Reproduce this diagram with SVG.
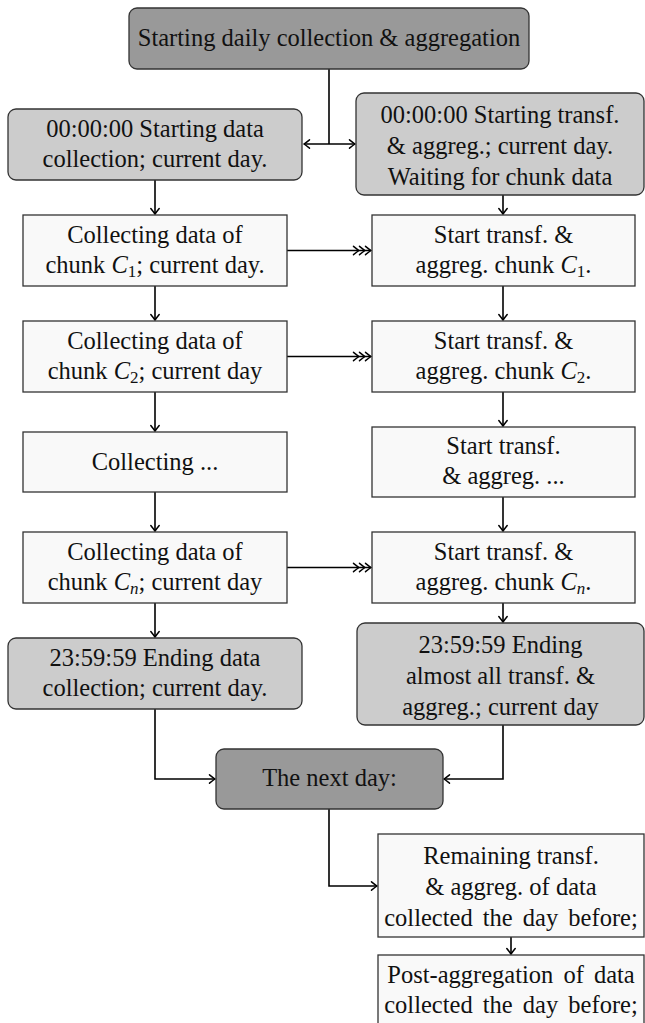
<svg xmlns="http://www.w3.org/2000/svg" xmlns:xlink="http://www.w3.org/1999/xlink" width="645" height="1023" viewBox="0 0 645 1023">
<defs>
<style>
text{font-family:"Liberation Serif","Times New Roman",serif;font-size:24.5px;fill:#111;text-anchor:middle}
.i{font-style:italic}
.sub{font-size:17px}
.ws{word-spacing:4px}
.dark{fill:#999;stroke:#333;stroke-width:1.3}
.gray{fill:#ccc;stroke:#333;stroke-width:1.3}
.white{fill:#f9f9f9;stroke:#333;stroke-width:1.3}
.c{fill:none;stroke:#000;stroke-width:1.6}
.a{marker-end:url(#arr)}
.t{marker-mid:url(#arr);marker-end:url(#arr)}
</style>
<marker id="arr" markerUnits="userSpaceOnUse" viewBox="-7 -5 8 10" refX="0" refY="0" markerWidth="8" markerHeight="10" orient="auto-start-reverse" overflow="visible">
<path d="M -5.5 -4.2 Q -1.5 -1 0 0 Q -1.5 1 -5.5 4.2" fill="none" stroke="#000" stroke-width="1.5" stroke-linecap="round"/>
</marker>
</defs>

<g id="connectors">
<path class="c" d="M329 69 V144"/>
<path class="c" d="M304 144 H355" marker-start="url(#arr)" marker-end="url(#arr)"/>
<path class="c a" d="M155 180 V214"/>
<path class="c a" d="M503 195 V214"/>
<path class="c a" d="M155 286 V320"/>
<path class="c a" d="M503 286 V320"/>
<path class="c a" d="M155 392 V431"/>
<path class="c a" d="M503 392 V426"/>
<path class="c a" d="M155 492 V531"/>
<path class="c a" d="M503 497 V531"/>
<path class="c a" d="M155 603 V637"/>
<path class="c a" d="M503 603 V622"/>
<polyline class="c t" points="287,250.5 359,250.5 365,250.5 371,250.5"/>
<polyline class="c t" points="287,356.5 359,356.5 365,356.5 371,356.5"/>
<polyline class="c t" points="287,567.5 359,567.5 365,567.5 371,567.5"/>
<path class="c a" d="M155 709 V779 H215"/>
<path class="c a" d="M503 725 V779 H444"/>
<path class="c a" d="M329 809 V886 H377"/>
<path class="c a" d="M511 937 V954"/>
</g>

<g id="start">
<rect class="dark" x="129" y="8" width="400" height="61" rx="8"/>
<text x="329" y="45.5">Starting daily collection &amp; aggregation</text>
</g>

<g id="collect-start">
<rect class="gray" x="8" y="109" width="294" height="71" rx="8"/>
<text x="155" y="136.5">00:00:00 Starting data</text>
<text x="155" y="166.5">collection; current day.</text>
</g>

<g id="transf-start">
<rect class="gray" x="356" y="93" width="288" height="102" rx="8"/>
<text x="500" y="122.5">00:00:00 Starting transf.</text>
<text x="500" y="153.5">&amp; aggreg.; current day.</text>
<text x="500" y="184.5">Waiting for chunk data</text>
</g>

<g id="collect-c1">
<rect class="white" x="23" y="215" width="264" height="71"/>
<text x="155" y="242.5">Collecting data of</text>
<text x="155" y="272.5">chunk <tspan class="i">C</tspan><tspan class="sub" dy="4">1</tspan><tspan dy="-4">; current day.</tspan></text>
</g>

<g id="transf-c1">
<rect class="white" x="372" y="215" width="263" height="71"/>
<text x="503.5" y="242.5">Start transf. &amp;</text>
<text x="503.5" y="272.5">aggreg. chunk <tspan class="i">C</tspan><tspan class="sub" dy="4">1</tspan><tspan dy="-4">.</tspan></text>
</g>

<g id="collect-c2">
<rect class="white" x="23" y="321" width="264" height="71"/>
<text x="155" y="348.5">Collecting data of</text>
<text x="155" y="378.5">chunk <tspan class="i">C</tspan><tspan class="sub" dy="4">2</tspan><tspan dy="-4">; current day</tspan></text>
</g>

<g id="transf-c2">
<rect class="white" x="372" y="321" width="263" height="71"/>
<text x="503.5" y="348.5">Start transf. &amp;</text>
<text x="503.5" y="378.5">aggreg. chunk <tspan class="i">C</tspan><tspan class="sub" dy="4">2</tspan><tspan dy="-4">.</tspan></text>
</g>

<g id="collect-dots">
<rect class="white" x="23" y="432" width="264" height="60"/>
<text x="155" y="469.5">Collecting ...</text>
</g>

<g id="transf-dots">
<rect class="white" x="372" y="427" width="263" height="70"/>
<text x="503.5" y="454">Start transf.</text>
<text x="503.5" y="484">&amp; aggreg. ...</text>
</g>

<g id="collect-cn">
<rect class="white" x="23" y="532" width="264" height="71"/>
<text x="155" y="559.5">Collecting data of</text>
<text x="155" y="589.5">chunk <tspan class="i">C</tspan><tspan class="sub i" dy="4">n</tspan><tspan dy="-4">; current day</tspan></text>
</g>

<g id="transf-cn">
<rect class="white" x="372" y="532" width="263" height="71"/>
<text x="503.5" y="559.5">Start transf. &amp;</text>
<text x="503.5" y="589.5">aggreg. chunk <tspan class="i">C</tspan><tspan class="sub i" dy="4">n</tspan><tspan dy="-4">.</tspan></text>
</g>

<g id="collect-end">
<rect class="gray" x="8" y="638" width="294" height="71" rx="8"/>
<text x="155" y="665.5">23:59:59 Ending data</text>
<text x="155" y="695.5">collection; current day.</text>
</g>

<g id="transf-end">
<rect class="gray" x="357" y="623" width="287" height="102" rx="8"/>
<text x="500.5" y="652.5">23:59:59 Ending</text>
<text x="500.5" y="683.5">almost all transf. &amp;</text>
<text x="500.5" y="714.5">aggreg.; current day</text>
</g>

<g id="next-day">
<rect class="dark" x="216" y="749" width="227" height="60" rx="8"/>
<text x="329.5" y="786">The next day:</text>
</g>

<g id="remaining">
<rect class="white" x="378" y="834" width="266" height="103"/>
<text x="511" y="863.5">Remaining transf.</text>
<text x="511" y="894.5">&amp; aggreg. of data</text>
<text class="ws" x="511" y="925.5">collected the day before;</text>
</g>

<g id="post">
<rect class="white" x="378" y="955" width="266" height="71"/>
<text class="ws" x="511" y="982.5">Post-aggregation of data</text>
<text class="ws" x="511" y="1012.5">collected the day before;</text>
</g>
</svg>
